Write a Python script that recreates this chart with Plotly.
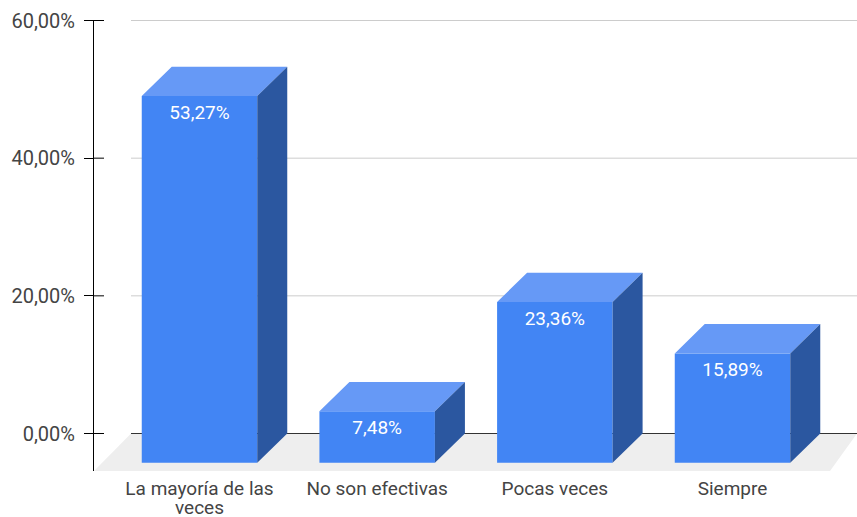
import plotly.graph_objects as go

categories = ["La mayoría de las", "No son efectivas", "Pocas veces", "Siempre"]
category_second_lines = ["veces", "", "", ""]
values = [53.27, 7.48, 23.36, 15.89]
value_labels = ["53,27%", "7,48%", "23,36%", "15,89%"]
y_ticks = [0, 20, 40, 60]
y_tick_labels = ["0,00%", "20,00%", "40,00%", "60,00%"]

FRONT, TOP, SIDE = "#4285F4", "#6699F6", "#2B57A0"
GRID, FLOOR, TEXT = "#CCCCCC", "#EEEEEE", "#444444"
FONT = "Roboto"
FS = 19

# layout geometry
W, H = 857, 517
L, T, B = 94, 20, 46
PX_PER_Y = 413 / 60
PX_PER_X = 177.67
X0_PX = 199.5 - L
xrange_ = [-X0_PX / PX_PER_X, (W - L - X0_PX) / PX_PER_X]
yrange_ = [-(H - B - 433.5) / PX_PER_Y, 60 + 0.5 / PX_PER_Y]
bar_w = 115.5 / PX_PER_X
dx = 30 / PX_PER_X
dy = 29.3 / PX_PER_Y
grid_x0 = xrange_[0] + (131 - L) / PX_PER_X
floor_x1 = xrange_[1] - 27 / PX_PER_X

idx = list(range(len(values)))

fig = go.Figure()

# front faces: the back plane sits on the axis scale, the front is shifted down by dy
fig.add_trace(go.Bar(x=idx, y=values, base=[-dy] * len(values), width=bar_w,
                     marker=dict(color=FRONT, line=dict(width=0)), hoverinfo="skip"))

top_x, top_y, side_x, side_y = [], [], [], []
for i, v in zip(idx, values):
    xl, xr = i - bar_w / 2, i + bar_w / 2
    ft = v - dy
    top_x += [xl, xr, xr + dx, xl + dx, xl, None]
    top_y += [ft, ft, v, v, ft, None]
    side_x += [xr, xr + dx, xr + dx, xr, xr, None]
    side_y += [ft, v, 0, -dy, ft, None]

fig.add_trace(go.Scatter(x=top_x, y=top_y, mode="lines", fill="toself", fillcolor=TOP,
                         line=dict(width=0), hoverinfo="skip"))
fig.add_trace(go.Scatter(x=side_x, y=side_y, mode="lines", fill="toself", fillcolor=SIDE,
                         line=dict(width=0), hoverinfo="skip"))
fig.add_trace(go.Scatter(x=idx, y=[v - dy - 18 / PX_PER_Y for v in values], mode="text",
                         text=value_labels, textposition="middle center",
                         textfont=dict(family=FONT, size=FS, color="#FFFFFF"), hoverinfo="skip"))

shapes = [dict(type="path", layer="below", line=dict(width=0), fillcolor=FLOOR,
               path=f"M {xrange_[0]} {yrange_[0]} L {grid_x0} 0 L {xrange_[1]} 0 "
                    f"L {floor_x1} {yrange_[0]} Z")]
for t in y_ticks:
    shapes.append(dict(type="line", layer="below", x0=grid_x0, x1=xrange_[1], y0=t, y1=t,
                       line=dict(color="#333333" if t == 0 else GRID, width=1)))
    shapes.append(dict(type="line", layer="below", x0=xrange_[0], x1=xrange_[0] + 10 / PX_PER_X,
                       y0=t, y1=t, line=dict(color="#000000", width=1)))

annotations = [dict(x=i, y=0, xref="x", yref="paper", yshift=-36, yanchor="middle", showarrow=False,
                    height=18, borderpad=0, text=s, font=dict(family=FONT, size=FS, color=TEXT))
               for i, s in zip(idx, category_second_lines) if s]

fig.update_layout(
    width=W, height=H, margin=dict(l=L, r=0, t=T, b=B, pad=0),
    paper_bgcolor="#FFFFFF", plot_bgcolor="rgba(0,0,0,0)", showlegend=False,
    font=dict(family=FONT, size=FS, color=TEXT), shapes=shapes, annotations=annotations,
    xaxis=dict(range=xrange_, tickmode="array", tickvals=idx, ticktext=categories,
               showgrid=False, zeroline=False, showline=False, ticks="", fixedrange=True,
               ticklabelstandoff=4, tickfont=dict(family=FONT, size=FS, color=TEXT)),
    yaxis=dict(range=yrange_, tickmode="array", tickvals=y_ticks, ticktext=y_tick_labels,
               showgrid=False, zeroline=False, showline=True, linecolor="#000000", linewidth=1,
               ticks="outside", ticklen=9, tickcolor="#000000", tickwidth=1, fixedrange=True,
               ticklabelstandoff=5, tickfont=dict(family=FONT, size=20, color=TEXT)),
)

fig.write_html("out.html", config={"displayModeBar": False},
               post_script="document.body.style.margin='0';document.documentElement.style.overflow='hidden';")
